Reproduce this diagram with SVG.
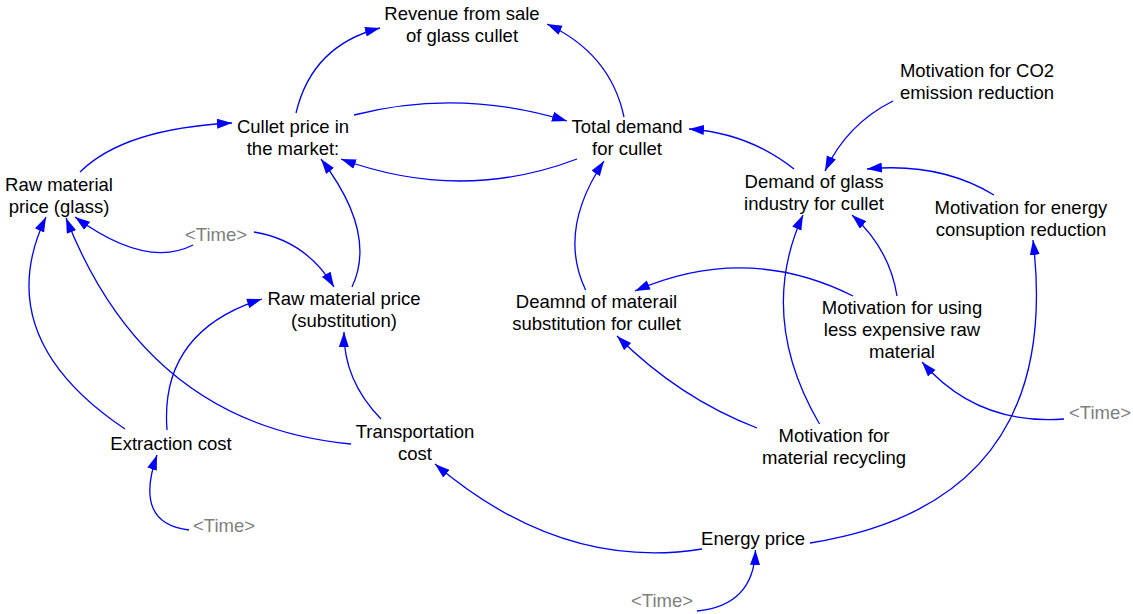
<svg xmlns="http://www.w3.org/2000/svg" width="1133" height="614" viewBox="0 0 1133 614">
<style>
text{font-family:"Liberation Sans",Arial,sans-serif;font-size:18.5px;fill:#000;text-anchor:middle}
text.t{fill:#808080}
.c path{fill:none;stroke:#0000FF;stroke-width:1.3;marker-end:url(#ah)}
</style>
<defs>
<marker id="ah" markerUnits="userSpaceOnUse" markerWidth="16" markerHeight="11" refX="15" refY="5" orient="auto">
<path d="M0,0 L15,5 L0,10 z" fill="#0000FF"/>
</marker>
</defs>
<rect width="1133" height="614" fill="#fff"/>
<g class="c" id="connectors">
<path d="M296,113 Q312,45.5 380,28"/>
<path d="M624,117 Q610.5,53.5 547,24"/>
<path d="M354,115 Q459.5,88 567,121"/>
<path d="M577,159 Q461,203 341,159"/>
<path d="M80,172 Q124,128.5 232,123"/>
<path d="M352,287 Q377.5,233 321,159"/>
<path d="M193,245 Q146,269 75,217"/>
<path d="M254,232 Q306,240.5 334,287"/>
<path d="M125,429 Q-11.5,337 46,217"/>
<path d="M351,444 Q147.5,425 66,218"/>
<path d="M167,430 Q159.5,331.5 262,299"/>
<path d="M381,419 Q343.5,380.5 344,332"/>
<path d="M702,549 Q561.5,571.5 435,464"/>
<path d="M189,530 Q133,523.5 157,455"/>
<path d="M697,611 Q753.75,605.5 755.5,550"/>
<path d="M810,543 Q1064.5,502.5 1033,240"/>
<path d="M757,428 Q679,398 617,336"/>
<path d="M819.5,424 Q756.75,316.5 803,215"/>
<path d="M853,296 Q746,242.5 635,291"/>
<path d="M897,296 Q889.5,248.5 852,215"/>
<path d="M1064,419 Q977,425.5 922,362"/>
<path d="M893,101 Q847,124 825,171"/>
<path d="M994,195 Q939.5,162 867,169"/>
<path d="M794,169 Q748.5,133 689,129"/>
<path d="M585.6,290 Q557.2,230.5 604,161"/>
</g>
<g id="revenue"><text x="462" y="20">Revenue from sale</text><text x="462" y="42">of glass cullet</text></g>
<g id="cullet-price"><text x="293" y="133">Cullet price in</text><text x="293" y="155">the market:</text></g>
<g id="total-demand"><text x="627" y="133">Total demand</text><text x="627" y="155">for cullet</text></g>
<g id="raw-glass"><text x="59" y="191">Raw material</text><text x="59" y="213">price (glass)</text></g>
<g id="time1"><text class="t" x="216" y="241">&lt;Time&gt;</text></g>
<g id="raw-subst"><text x="344" y="305">Raw material price</text><text x="344" y="327">(substitution)</text></g>
<g id="demand-subst"><text x="596.5" y="308">Deamnd of materail</text><text x="596.5" y="330">substitution for cullet</text></g>
<g id="co2"><text x="977" y="77">Motivation for CO2</text><text x="977" y="99">emission reduction</text></g>
<g id="demand-glass"><text x="814" y="188">Demand of glass</text><text x="814" y="210">industry for cullet</text></g>
<g id="energy-motive"><text x="1021" y="214">Motivation for energy</text><text x="1021" y="236">consuption reduction</text></g>
<g id="using"><text x="902" y="313.5">Motivation for using</text><text x="902" y="335.5">less expensive raw</text><text x="902" y="357.5">material</text></g>
<g id="time2"><text class="t" x="1100" y="419">&lt;Time&gt;</text></g>
<g id="recycling"><text x="834" y="442">Motivation for</text><text x="834" y="464">material recycling</text></g>
<g id="energy-price"><text x="753" y="545">Energy price</text></g>
<g id="time3"><text class="t" x="662" y="607">&lt;Time&gt;</text></g>
<g id="extraction"><text x="171" y="450">Extraction cost</text></g>
<g id="transport"><text x="415" y="438">Transportation</text><text x="415" y="460">cost</text></g>
<g id="time4"><text class="t" x="224" y="532">&lt;Time&gt;</text></g>
</svg>
